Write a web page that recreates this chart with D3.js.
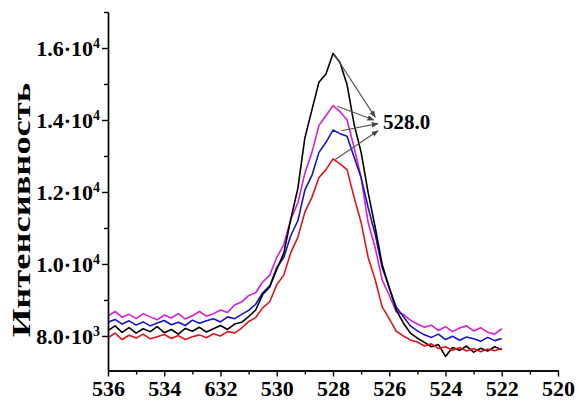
<!DOCTYPE html>
<html>
<head>
<meta charset="utf-8">
<script src="https://cdn.jsdelivr.net/npm/d3@7"></script>
<style>
  html, body { margin: 0; padding: 0; background: #fff; }
  svg { display: block; }
  text { font-family: "Liberation Serif", "Times New Roman", serif; font-weight: bold; fill: #000; }
</style>
</head>
<body>
<svg id="chart" width="580" height="402"></svg>
<script>
// ---- data ----
const energy = [536, 535.75, 535.5, 535.25, 535, 534.75, 534.5, 534.25, 534, 533.75, 533.5, 533.25, 533,
  532.75, 532.5, 532.25, 532, 531.75, 531.5, 531.25, 531, 530.75, 530.5, 530.25, 530, 529.75, 529.5, 529.25,
  529, 528.75, 528.5, 528.25, 528, 527.75, 527.5, 527.25, 527, 526.75, 526.5, 526.25, 526, 525.75, 525.5,
  525.25, 525, 524.75, 524.5, 524.25, 524, 523.75, 523.5, 523.25, 523, 522.75, 522.5, 522.25, 522];

const seriesBlack = [8150, 8280, 8100, 8230, 8080, 8200, 8120, 8260, 8090, 8180, 8050, 8210, 8130,
  8240, 8110, 8200, 8290, 8180, 8330, 8380, 8540, 8720, 9150, 9360, 9850, 10300, 11250, 12100,
  13500, 14280, 15050, 15280, 15850, 15600, 14980, 13880, 13100, 11980, 11020, 9980, 9340, 8720, 8360,
  8080, 7940, 7820, 7700, 7760, 7430, 7680, 7600, 7720, 7550, 7660, 7580, 7700, 7620];

const seriesMagenta = [8550, 8680, 8520, 8600, 8480, 8620, 8530, 8450, 8580, 8500, 8620, 8470, 8560,
  8680, 8550, 8620, 8720, 8650, 8860, 8940, 9120, 9200, 9500, 9690, 10180, 10540, 11240, 11700,
  12520, 13100, 13850, 14120, 14400, 14230, 14000, 13240, 12400, 11150, 10450, 9550, 9130, 8670, 8600,
  8440, 8330, 8240, 8300, 8150, 8260, 8120, 8220, 8280, 8140, 8230, 8100, 8050, 8200];

const seriesBlue = [8380, 8460, 8330, 8420, 8300, 8390, 8280, 8360, 8430, 8310, 8380, 8290, 8440,
  8350, 8420, 8480, 8390, 8530, 8480, 8600, 8710, 8880, 9200, 9390, 9900, 10180, 10790, 11200,
  12050, 12460, 13100, 13380, 13720, 13620, 13550, 12970, 12400, 11570, 10820, 9900, 9340, 8800, 8540,
  8280, 8140, 8030, 7960, 8050, 7900, 7990, 7880, 7970, 7920, 7850, 7960, 7870, 7930];

const seriesRed = [7950, 8080, 7900, 8020, 7940, 8050, 7920, 7980, 8040, 7930, 8010, 7900, 7980,
  8030, 7950, 8060, 8000, 8120, 8080, 8220, 8400, 8510, 8780, 8950, 9420, 9690, 10320, 10740,
  11440, 11850, 12400, 12620, 12920, 12780, 12620, 11850, 11150, 10180, 9560, 8800, 8480, 8130, 8000,
  7890, 7830, 7720, 7780, 7650, 7700, 7600, 7680, 7580, 7650, 7560, 7640, 7590, 7660];

const seriesNames = ["magenta", "blue", "black", "red"];
const seriesColors = ["#d61fd6", "#1414c8", "#000000", "#e0141a"];

const xMajorTicks = [536, 534, 532, 530, 528, 526, 524, 522, 520];
const xTickLabels = ["536", "534", "632", "530", "528", "526", "524", "522", "520"];
const xMinorTicks = [535, 533, 531, 529, 527, 525, 523, 521];

const yMajorTicks = [8000, 10000, 12000, 14000, 16000];
const yTickMantissa = ["8.0", "1.0", "1.2", "1.4", "1.6"];
const yTickExponent = ["3", "4", "4", "4", "4"];
const yMinorTicks = [9000, 11000, 13000, 15000, 17000];

const yTitle = "Интенсивность";
const peakLabel = "528.0";
// arrows: from each peak (energy, intensity) to the label
const arrowFromE = [527.95, 527.85, 527.7, 527.92];
const arrowFromV = [15820, 14380, 13700, 12900];
const arrowToE = [526.5, 526.55, 526.4, 526.4];
const arrowToV = [14080, 14000, 13900, 13700];
const labelE = 526.22, labelV = 13750;

// ---- chart ----
const svg = d3.select("#chart");
const x = d3.scaleLinear().domain([536, 520]).range([108, 558]);
const y = d3.scaleLinear().domain([7040, 17000]).range([370.5, 12]);

const seriesData = {
  magenta: seriesMagenta, blue: seriesBlue, black: seriesBlack, red: seriesRed
};

const line = d3.line().x(d => x(d[0])).y(d => y(d[1]));

seriesNames.forEach((name, i) => {
  const vals = seriesData[name];
  svg.append("path")
    .datum(energy.map((e, j) => [e, vals[j]]))
    .attr("fill", "none")
    .attr("stroke", seriesColors[i])
    .attr("stroke-width", 1.6)
    .attr("stroke-linejoin", "round")
    .attr("d", line);
});

// axes
const axisStyle = g => {
  g.selectAll("path, line").attr("stroke", "#000").attr("stroke-width", 1.4);
};

// x minor
svg.append("g").attr("transform", `translate(0,${y(7040)})`)
  .call(d3.axisBottom(x).tickValues(xMinorTicks).tickSize(4).tickSizeOuter(0).tickFormat(""))
  .call(axisStyle);
// x major
const gx = svg.append("g").attr("transform", `translate(0,${y(7040)})`)
  .call(d3.axisBottom(x).tickValues(xMajorTicks).tickSize(6).tickSizeOuter(0)
    .tickFormat((d, i) => xTickLabels[i]))
  .call(axisStyle);
gx.selectAll("text").attr("font-size", 22).attr("dy", "0.95em").attr("y", 5);

// y minor
svg.append("g").attr("transform", `translate(${x(536)},0)`)
  .call(d3.axisLeft(y).tickValues(yMinorTicks).tickSize(4).tickSizeOuter(0).tickFormat(""))
  .call(axisStyle);
// y major
const gy = svg.append("g").attr("transform", `translate(${x(536)},0)`)
  .call(d3.axisLeft(y).tickValues(yMajorTicks).tickSize(6).tickSizeOuter(0).tickFormat(""))
  .call(axisStyle);
gy.selectAll(".tick").each(function (d, i) {
  const t = d3.select(this).append("text")
    .attr("x", -8).attr("dy", "0.35em")
    .attr("text-anchor", "end")
    .attr("font-size", 22);
  t.append("tspan").text(yTickMantissa[i] + "·10");
  t.append("tspan").attr("font-size", 14).attr("dy", "-0.6em").text(yTickExponent[i]);
});
svg.selectAll(".domain").attr("stroke", "#000").attr("stroke-width", 1.4);

// y title
svg.append("text")
  .attr("transform", `translate(30,210) rotate(-90)`)
  .attr("text-anchor", "middle")
  .attr("font-size", 25)
  .attr("textLength", 254)
  .attr("lengthAdjust", "spacingAndGlyphs")
  .text(yTitle);

// annotation arrows
svg.append("defs").append("marker")
  .attr("id", "arrowhead")
  .attr("viewBox", "0 0 10 10")
  .attr("refX", 9).attr("refY", 5)
  .attr("markerWidth", 7).attr("markerHeight", 7)
  .attr("markerUnits", "userSpaceOnUse")
  .attr("orient", "auto")
  .append("path").attr("d", "M0,1 L10,5 L0,9 Z").attr("fill", "#444");

arrowFromE.forEach((e, i) => {
  svg.append("line")
    .attr("x1", x(e)).attr("y1", y(arrowFromV[i]))
    .attr("x2", x(arrowToE[i])).attr("y2", y(arrowToV[i]))
    .attr("stroke", "#555").attr("stroke-width", 1.2)
    .attr("marker-end", "url(#arrowhead)");
});

svg.append("text")
  .attr("x", x(labelE)).attr("y", y(labelV))
  .attr("font-size", 21)
  .text(peakLabel);
</script>
</body>
</html>
